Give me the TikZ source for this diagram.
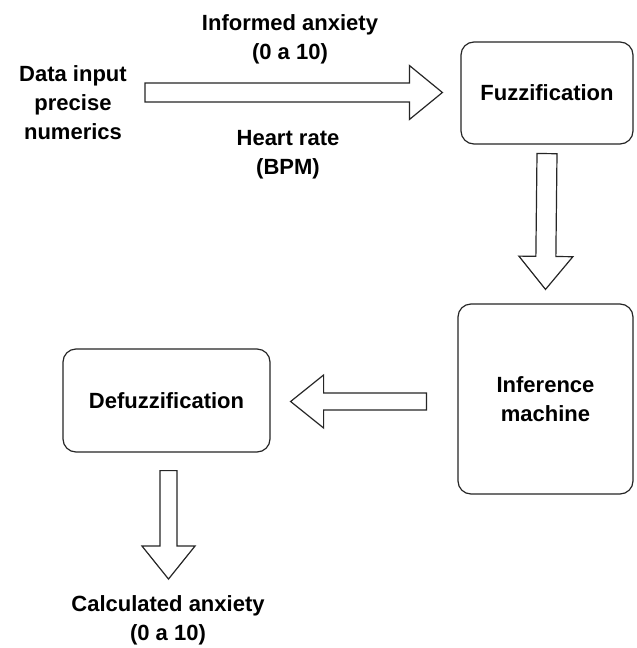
\documentclass[tikz,border=0pt]{standalone}
\usepackage{fontspec}
\setmainfont{Liberation Sans}
\usetikzlibrary{calc}
\tikzset{
  box/.style={draw=black!85, line width=1.2pt, rounded corners=13pt, align=center, inner sep=0pt},
  lbl/.style={align=center, inner sep=0pt},
  barrow/.style={draw=black!85, line width=1.2pt, fill=white, line join=miter},
}
% #1 start, #2 tip, #3 body half width, #4 head half width, #5 head length
\newcommand\blockarr[5]{%
  \coordinate (hb) at ($(#2)!#5!(#1)$);
  \draw[barrow] ($(#1)!#3!90:(#2)$) -- ($(hb)!#3!-90:(#1)$) -- ($(hb)!#4!-90:(#1)$) -- (#2)
     -- ($(hb)!#4!90:(#1)$) -- ($(hb)!#3!90:(#1)$) -- ($(#1)!#3!-90:(#2)$) -- cycle;
}
\begin{document}
\begin{tikzpicture}[x=1pt,y=-1pt, font=\bfseries\fontsize{22}{29}\selectfont]
\useasboundingbox (0,0) rectangle (637,648);
\fill[white] (0,0) rectangle (637,648);

\node[lbl] (data) at (73,102.5) {Data input\\precise\\numerics};
\node[lbl] (inf) at (290,39) {Informed anxiety\\(0 a 10)};
\node[lbl] (hr) at (288,155) {Heart rate\\(BPM)};
\node[box, minimum width=172pt, minimum height=102pt] (fuzz) at (547,93) {Fuzzification};
\node[box, minimum width=175pt, minimum height=190pt] (infer) at (545.5,399) {Inference\\machine};
\node[box, minimum width=207pt, minimum height=103pt] (defuzz) at (166.5,400.5) {Defuzzification};
\node[lbl] (calc) at (168,620.5) {Calculated anxiety\\(0 a 10)};

% arrow 1: data -> fuzz
\coordinate (a1s) at ($(data.east)+(18,-10)$);
\coordinate (a1e) at ($(fuzz.west)+(-18,-0.5)$);
\blockarr{a1s}{a1e}{9.5pt}{27pt}{33pt}
% arrow 2: fuzz -> infer
\coordinate (a2s) at ($(fuzz.south)+(0,9)$);
\coordinate (a2e) at ($(infer.north)+(0,-14)$);
\blockarr{a2s}{a2e}{10pt}{27pt}{33pt}
% arrow 3: infer -> defuzz
\coordinate (a3s) at ($(infer.west)+(-31,2.5)$);
\coordinate (a3e) at ($(defuzz.east)+(20,1)$);
\blockarr{a3s}{a3e}{8.5pt}{26.5pt}{33pt}
% arrow 4: defuzz -> calc
\coordinate (a4s) at ($(defuzz.south)+(2,18)$);
\coordinate (a4e) at ($(calc.north)+(0.5,-16.5)$);
\blockarr{a4s}{a4e}{8.5pt}{26.5pt}{33pt}
\end{tikzpicture}
\end{document}
